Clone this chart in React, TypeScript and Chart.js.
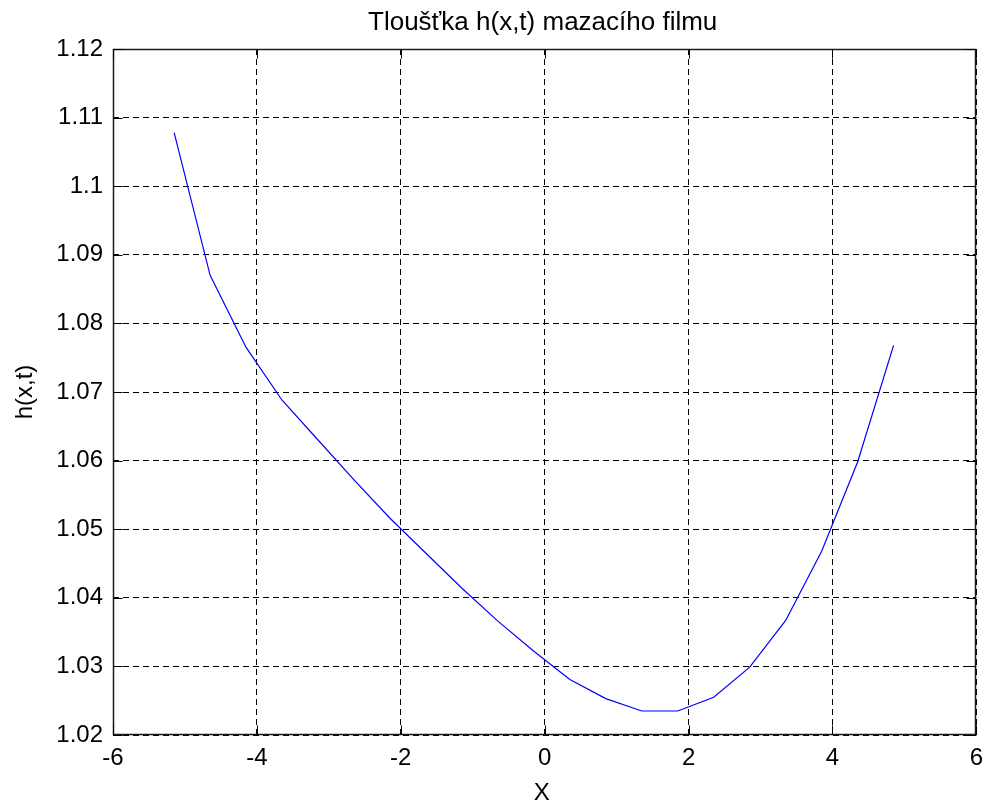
import React, { useEffect, useRef } from "react";
import { Chart, registerables } from "chart.js";

Chart.register(...registerables);

// Film thickness profile h(x,t) sampled along x
const xValues = [
  -5.15, -4.65, -4.15, -3.65, -3.15, -2.65, -2.15, -1.65, -1.15, -0.65, -0.15,
  0.35, 0.85, 1.35, 1.85, 2.35, 2.85, 3.35, 3.85, 4.35, 4.85,
];
const hValues = [
  1.1078, 1.087, 1.0765, 1.0688, 1.063, 1.0572, 1.0516, 1.0465, 1.0414, 1.0366,
  1.0322, 1.0281, 1.0253, 1.0235, 1.0235, 1.0255, 1.0299, 1.0367, 1.0468,
  1.0598, 1.0768,
];

const xTicks = [-6, -4, -2, 0, 2, 4, 6];
const yTicks = [1.02, 1.03, 1.04, 1.05, 1.06, 1.07, 1.08, 1.09, 1.1, 1.11, 1.12];
const yTickLabels = ["1.02", "1.03", "1.04", "1.05", "1.06", "1.07", "1.08", "1.09", "1.1", "1.11", "1.12"];

const titleText = "Tloušťka h(x,t) mazacího filmu";
const xAxisLabel = "X";
const yAxisLabel = "h(x,t)";

const FONT = '"Liberation Sans", Arial, sans-serif';

// Box around the axes, inward tick marks on all four sides, title and axis labels
const framePlugin = {
  id: "frame",
  afterDraw(chart: any) {
    const { ctx, chartArea } = chart;
    const xs = chart.scales.x;
    const ys = chart.scales.y;
    const L = Math.round(chartArea.left) + 0.5;
    const R = Math.round(chartArea.right) - 0.5;
    const T = Math.round(chartArea.top) + 0.5;
    const B = Math.round(chartArea.bottom) - 0.5;
    const tick = 9;

    ctx.save();
    ctx.strokeStyle = "#1a1a1a";
    ctx.lineWidth = 1.5;
    ctx.setLineDash([]);
    ctx.strokeRect(L, T, R - L, B - T);

    ctx.lineWidth = 1;
    ctx.strokeStyle = "#000";
    ctx.beginPath();
    xTicks.forEach((v) => {
      const px = Math.round(xs.getPixelForValue(v)) + 0.5;
      ctx.moveTo(px, B);
      ctx.lineTo(px, B - tick);
      ctx.moveTo(px, T);
      ctx.lineTo(px, T + tick);
    });
    yTicks.forEach((v) => {
      const py = Math.round(ys.getPixelForValue(v)) + 0.5;
      ctx.moveTo(L, py);
      ctx.lineTo(L + tick, py);
      ctx.moveTo(R, py);
      ctx.lineTo(R - tick, py);
    });
    ctx.stroke();

    const cx = (chartArea.left + chartArea.right) / 2;
    const cy = (chartArea.top + chartArea.bottom) / 2;
    ctx.fillStyle = "#000";

    ctx.font = `26px ${FONT}`;
    ctx.textAlign = "center";
    ctx.textBaseline = "alphabetic";
    ctx.fillText(titleText, cx - 2, 30);

    ctx.font = `24px ${FONT}`;
    ctx.fillText(xAxisLabel, cx - 3, 800);

    ctx.translate(25, cy);
    ctx.rotate(-Math.PI / 2);
    ctx.textBaseline = "middle";
    ctx.fillText(yAxisLabel, 0, 0);
    ctx.restore();
  },
};

export default function App() {
  const canvasRef = useRef<HTMLCanvasElement | null>(null);

  useEffect(() => {
    const canvas = canvasRef.current;
    if (!canvas) return;
    const points = xValues.map((x, i) => ({ x, y: hValues[i] }));

    const chart = new Chart(canvas, {
      type: "scatter",
      data: {
        datasets: [
          {
            data: points,
            showLine: true,
            borderColor: "#0000ff",
            borderWidth: 1.2,
            pointRadius: 0,
            tension: 0,
            fill: false,
          },
        ],
      },
      options: {
        responsive: false,
        animation: false,
        devicePixelRatio: 1,
        layout: { padding: { top: 49, right: 10, left: 0, bottom: 0 } },
        plugins: {
          legend: { display: false },
          title: { display: false },
          tooltip: { enabled: false },
        },
        scales: {
          x: {
            type: "linear",
            min: -6,
            max: 6,
            afterBuildTicks: (s: any) => {
              s.ticks = xTicks.map((v) => ({ value: v }));
            },
            afterFit: (s: any) => {
              s.height = 73;
            },
            ticks: {
              autoSkip: false,
              maxRotation: 0,
              padding: 9,
              color: "#000",
              font: { family: FONT, size: 24 },
              callback: (v: any) => String(v),
            },
            grid: { color: "#000", lineWidth: 1, drawTicks: false },
            border: { display: false, dash: [6, 4] },
          },
          y: {
            type: "linear",
            min: 1.02,
            max: 1.12,
            afterBuildTicks: (s: any) => {
              s.ticks = yTicks.map((v) => ({ value: v }));
            },
            afterFit: (s: any) => {
              s.width = 113;
            },
            ticks: {
              autoSkip: false,
              padding: 10,
              color: "#000",
              font: { family: FONT, size: 24 },
              callback: (_v: any, i: number) => yTickLabels[i],
            },
            grid: { color: "#000", lineWidth: 1, drawTicks: false },
            border: { display: false, dash: [6, 4] },
          },
        },
      },
      plugins: [framePlugin],
    });

    return () => chart.destroy();
  }, []);

  return (
    <div style={{ position: "absolute", left: 0, top: 0, width: 992, height: 808, background: "#fff" }}>
      <canvas ref={canvasRef} width={992} height={808} style={{ display: "block" }} />
    </div>
  );
}
